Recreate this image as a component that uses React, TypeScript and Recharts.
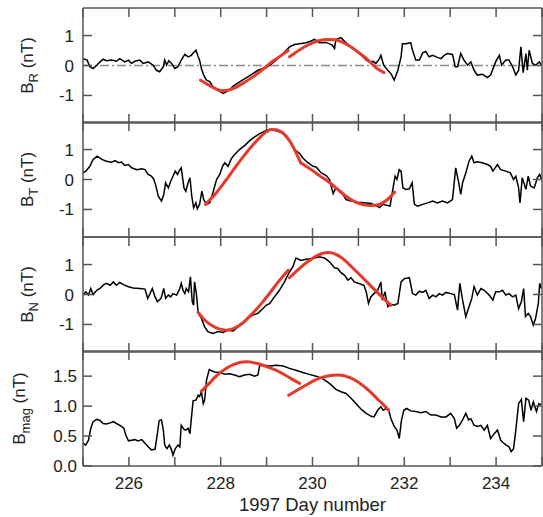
import { LineChart, Line, XAxis, YAxis, ReferenceLine } from "recharts";

const FRAME = "#555";
const RED = "#e5392b";
const FONT = "'Liberation Sans', Arial, sans-serif";

const xTicks = [225, 226, 227, 228, 229, 230, 231, 232, 233, 234, 235];
const fieldTicks = [-1, 0, 1];
const magTicks = [0, 0.5, 1, 1.5];

// B_R
const brDays = [225.0, 225.09, 225.15, 225.22, 225.3, 225.37, 225.44, 225.51, 225.62, 225.73, 225.8, 225.91, 225.99, 226.06, 226.13, 226.24, 226.31, 226.42, 226.53, 226.6, 226.67, 226.75, 226.78, 226.82, 226.87, 226.93, 227.0, 227.07, 227.14, 227.22, 227.29, 227.36, 227.4, 227.46, 227.51, 227.54, 227.58, 227.63, 227.69, 227.76, 227.83, 227.94, 228.05, 228.12, 228.2, 228.27, 228.38, 228.49, 228.59, 228.7, 228.81, 228.92, 229.03,
  229.21, 229.36, 229.5, 229.61, 229.72, 229.86, 229.97, 230.04, 230.15, 230.3, 230.43, 230.48, 230.51, 230.62, 230.73, 230.84, 230.95, 231.07, 231.17, 231.24, 231.32, 231.38, 231.46, 231.49, 231.55, 231.64, 231.71, 231.78, 231.86, 231.93, 231.96, 232.04, 232.14, 232.18, 232.25, 232.33, 232.4, 232.47, 232.54, 232.62, 232.72, 232.8, 232.87, 232.94, 233.05, 233.11, 233.16, 233.23, 233.3, 233.38, 233.45, 233.52, 233.59, 233.7, 233.81, 233.88, 233.99, 234.07, 234.12, 234.21, 234.28, 234.36, 234.43, 234.49, 234.54, 234.59, 234.65, 234.68, 234.72, 234.79, 234.86, 234.94, 234.99];
const brVals = [0.23, 0.18, -0.04, -0.1, 0.01, 0.12, 0.21, 0.16, 0.18, 0.14, 0.23, 0.12, 0.18, 0.07, 0.14, 0.18, 0.07, 0.12, 0.01, -0.16, -0.21, -0.04, 0.18, 0.01, 0.16, 0.07, -0.1, -0.04, 0.18, 0.37, 0.29, 0.34, 0.42, 0.51, 0.29, 0.18, -0.1, -0.32, -0.49, -0.54, -0.71, -0.82, -0.93, -0.88, -0.8, -0.69, -0.58, -0.47, -0.38, -0.27, -0.16, -0.1, -0.04,
  0.18, 0.4, 0.62, 0.7, 0.73, 0.76, 0.82, 0.87, 0.76, 0.77, 0.68, 0.57, 0.87, 0.93, 0.76, 0.62, 0.49, 0.34, 0.18, 0.12, 0.14, 0.07, 0.23, 0.34, 0.01, -0.16, -0.27, -0.49, -0.16, 0.29, 0.73, 0.73, 0.76, 0.51, 0.18, 0.18, 0.42, 0.47, 0.29, 0.34, 0.27, 0.23, 0.34, 0.4, 0.37, -0.04, -0.04, 0.4, 0.18, 0.01, 0.12, -0.16, -0.32, -0.29, -0.4, -0.32, 0.12, 0.34, 0.01, 0.18, 0.18, -0.04, -0.32, -0.16, 0.62, -0.24, 0.4, -0.16, 0.51, 0.07, 0.01, 0.12, 0.01];
const brFitADays = [227.56, 227.7, 227.85, 228.01, 228.15, 228.3, 228.5, 228.7, 228.9, 229.0, 229.07, 229.21, 229.36, 229.47];
const brFitAVals = [-0.49, -0.62, -0.75, -0.84, -0.83, -0.75, -0.58, -0.38, -0.15, -0.03, 0.07, 0.22, 0.38, 0.5];
const brFitBDays = [229.5, 229.65, 229.86, 230.04, 230.3, 230.48, 230.62, 230.84, 231.07, 231.24, 231.38, 231.56];
const brFitBVals = [0.29, 0.45, 0.65, 0.78, 0.87, 0.86, 0.8, 0.62, 0.36, 0.14, -0.07, -0.24];

// B_T
const btDays = [225.0, 225.06, 225.15, 225.22, 225.31, 225.41, 225.51, 225.62, 225.7, 225.77, 225.84, 225.91, 225.99, 226.06, 226.17, 226.28, 226.35, 226.42, 226.49, 226.54, 226.59, 226.64, 226.71, 226.76, 226.8, 226.86, 226.91, 226.96, 227.01, 227.06, 227.11, 227.14, 227.2, 227.24, 227.29, 227.33, 227.37, 227.41, 227.46, 227.49, 227.54, 227.59, 227.63, 227.69, 227.76, 227.83, 227.91, 227.98, 228.04, 228.09, 228.16, 228.23, 228.3, 228.41, 228.52, 228.62, 228.74, 228.85, 228.99,
  229.07, 229.21, 229.36, 229.5, 229.61, 229.72, 229.79, 229.9, 230.01, 230.08, 230.19, 230.3, 230.37, 230.45, 230.51, 230.62, 230.73, 230.84, 230.99, 231.13, 231.28, 231.38, 231.46, 231.53, 231.64, 231.69, 231.75, 231.8, 231.84, 231.89, 231.93, 231.97, 232.04, 232.11, 232.17, 232.22, 232.29, 232.4, 232.51, 232.62, 232.72, 232.83, 232.94, 233.05, 233.12, 233.18, 233.23, 233.27, 233.34, 233.41, 233.47, 233.52, 233.59, 233.7, 233.81, 233.88, 233.93, 234.03, 234.1, 234.21, 234.31, 234.38, 234.43, 234.49, 234.52, 234.57, 234.65, 234.7, 234.75, 234.83, 234.9, 234.95, 234.99];
const btVals = [0.22, 0.28, 0.44, 0.67, 0.78, 0.67, 0.61, 0.58, 0.63, 0.56, 0.58, 0.47, 0.5, 0.39, 0.33, 0.36, 0.33, 0.17, 0.11, 0.02, -0.22, -0.56, -0.72, -0.5, -0.11, -0.28, -0.06, 0.11, 0.28, 0.17, 0.33, 0.39, -0.28, -0.39, -0.11, 0.06, -0.56, -0.94, -0.78, -0.98, -0.83, -0.39, -0.67, -0.83, -0.78, -0.44, 0, 0.17, 0.44, 0.56, 0.44, 0.69, 0.83, 1.0, 1.13, 1.28, 1.42, 1.53, 1.64,
  1.67, 1.63, 1.53, 1.28, 1.0, 0.87, 0.72, 0.56, 0.44, 0.42, 0.22, 0.13, 0, -0.47, -0.28, -0.39, -0.67, -0.72, -0.76, -0.78, -0.8, -0.87, -0.94, -0.83, -0.87, -0.89, -0.33, 0.11, 0, 0.33, 0.28, -0.28, -0.33, -0.31, -0.11, -0.83, -0.89, -0.83, -0.78, -0.72, -0.78, -0.72, -0.78, -0.67, 0.39, -0.06, -0.5, -0.11, 0.22, 0.61, 0.78, 0.56, 0.59, 0.56, 0.5, 0.44, 0.28, 0.5, 0.33, 0.28, 0.22, 0, 0.11, -0.28, -0.78, 0.06, -0.33, 0.11, -0.22, -0.28, 0.06, 0.17, 0];
const btFitADays = [227.67, 227.9, 228.1, 228.3, 228.5, 228.7, 228.85, 229.0, 229.1, 229.21, 229.36, 229.5, 229.63, 229.74];
const btFitAVals = [-0.83, -0.45, -0.05, 0.37, 0.78, 1.15, 1.4, 1.6, 1.67, 1.66, 1.55, 1.3, 0.93, 0.56];
const btFitBDays = [229.74, 229.97, 230.15, 230.37, 230.55, 230.73, 230.92, 231.1, 231.28, 231.46, 231.64, 231.79];
const btFitBVals = [0.56, 0.33, 0.13, -0.1, -0.33, -0.56, -0.74, -0.84, -0.87, -0.83, -0.66, -0.42];

// B_N
const bnDays = [225.0, 225.06, 225.12, 225.17, 225.22, 225.3, 225.37, 225.44, 225.51, 225.59, 225.66, 225.73, 225.8, 225.88, 225.99, 226.09, 226.24, 226.35, 226.41, 226.46, 226.51, 226.57, 226.62, 226.7, 226.76, 226.8, 226.86, 226.91, 226.96, 227.04, 227.11, 227.14, 227.18, 227.22, 227.25, 227.3, 227.34, 227.38, 227.41, 227.43, 227.47, 227.51, 227.58, 227.65, 227.72, 227.83, 227.94, 228.05, 228.16, 228.27, 228.38, 228.49, 228.59, 228.7, 228.81, 228.92, 228.99,
  229.07, 229.17, 229.28, 229.39, 229.5, 229.57, 229.64, 229.75, 229.86, 230.01, 230.15, 230.26, 230.37, 230.48, 230.55, 230.62, 230.7, 230.77, 230.84, 230.91, 231.01, 231.12, 231.17, 231.22, 231.27, 231.34, 231.42, 231.49, 231.52, 231.58, 231.64, 231.71, 231.78, 231.86, 231.93, 232.0, 232.11, 232.18, 232.25, 232.33, 232.4, 232.47, 232.54, 232.62, 232.69, 232.76, 232.83, 232.91, 233.01, 233.09, 233.16, 233.21, 233.27, 233.34, 233.41, 233.47, 233.52, 233.59, 233.67, 233.74, 233.85, 233.93, 233.99, 234.07, 234.14, 234.21, 234.28, 234.36, 234.43, 234.49, 234.55, 234.6, 234.64, 234.7, 234.75, 234.81, 234.86, 234.92, 234.95, 234.99];
const bnVals = [-0.02, 0.09, -0.02, 0.2, 0, 0.14, 0.2, 0.31, 0.37, 0.31, 0.42, 0.31, 0.4, 0.33, 0.26, 0.22, 0.2, 0.18, -0.13, 0.03, 0.2, -0.08, -0.24, -0.13, 0.2, -0.13, -0.02, -0.08, 0.03, -0.02, 0.2, 0.37, 0.14, 0.03, 0.2, 0.09, 0.59, -0.24, -0.36, 0.42, 0.03, -0.63, -0.8, -1.08, -1.24, -1.3, -1.24, -1.27, -1.19, -1.22, -1.08, -0.97, -0.8, -0.69, -0.63, -0.47, -0.36,
  -0.3, -0.08, 0.14, 0.42, 0.76, 0.92, 1.22, 1.14, 1.18, 1.2, 1.26, 1.22, 1.09, 0.89, 0.87, 0.73, 0.64, 0.48, 0.56, 0.42, 0.37, 0.31, 0.09, -0.3, -0.08, 0.03, 0.14, 0.42, -0.19, 0.09, -0.41, -0.33, -0.36, -0.3, 0.42, 0.53, 0.56, 0.03, -0.02, 0.11, 0.07, 0.14, -0.13, -0.02, -0.08, 0.03, -0.02, 0.07, 0.03, 0, -0.52, 0.37, -0.19, -0.74, -0.41, -0.13, 0.26, -0.02, 0.2, 0.14, -0.02, -0.19, 0.09, 0.09, 0.14, -0.02, 0.03, -0.08, -0.02, -0.47, -0.24, 0.2, -0.74, -0.63, -0.74, -1.02, -0.8, -0.3, 0.37, 0.2];
const bnFitADays = [227.51, 227.65, 227.8, 227.95, 228.12, 228.3, 228.5, 228.7, 228.9, 229.07, 229.27, 229.47];
const bnFitAVals = [-0.6, -0.85, -1.03, -1.14, -1.19, -1.12, -0.92, -0.62, -0.28, 0.05, 0.45, 0.81];
const bnFitBDays = [229.5, 229.7, 229.9, 230.1, 230.34, 230.5, 230.7, 230.9, 231.1, 231.3, 231.5, 231.71];
const bnFitBVals = [0.56, 0.85, 1.1, 1.3, 1.4, 1.35, 1.15, 0.85, 0.55, 0.24, -0.06, -0.36];

// B_mag
const bmDays = [225.0, 225.06, 225.12, 225.17, 225.22, 225.3, 225.37, 225.44, 225.51, 225.59, 225.66, 225.73, 225.82, 225.89, 225.93, 225.99, 226.06, 226.13, 226.2, 226.28, 226.35, 226.42, 226.49, 226.57, 226.62, 226.66, 226.71, 226.75, 226.78, 226.83, 226.88, 226.93, 226.96, 227.01, 227.07, 227.11, 227.14, 227.2, 227.24, 227.29, 227.33, 227.36, 227.4, 227.46, 227.51, 227.54, 227.58, 227.62, 227.65, 227.69, 227.75, 227.8, 227.87, 227.98, 228.09, 228.2, 228.3, 228.41, 228.52, 228.63, 228.74, 228.81, 228.85, 228.92, 228.99,
  229.07, 229.21, 229.36, 229.5, 229.64, 229.79, 229.93, 230.08, 230.22, 230.37, 230.51, 230.62, 230.73, 230.84, 230.95, 231.07, 231.17, 231.28, 231.34, 231.42, 231.49, 231.54, 231.6, 231.66, 231.71, 231.78, 231.84, 231.89, 231.94, 231.99, 232.05, 232.14, 232.25, 232.36, 232.47, 232.58, 232.69, 232.8, 232.91, 233.01, 233.09, 233.14, 233.2, 233.27, 233.34, 233.4, 233.45, 233.52, 233.59, 233.67, 233.74, 233.81, 233.88, 233.96, 234.03, 234.1, 234.17, 234.22, 234.28, 234.33, 234.38, 234.43, 234.49, 234.55, 234.6, 234.65, 234.71, 234.76, 234.81, 234.88, 234.93, 234.99];
const bmVals = [0.38, 0.35, 0.43, 0.63, 0.74, 0.78, 0.76, 0.71, 0.7, 0.72, 0.74, 0.71, 0.67, 0.63, 0.52, 0.42, 0.43, 0.44, 0.42, 0.44, 0.38, 0.32, 0.27, 0.28, 0.54, 0.76, 0.77, 0.6, 0.35, 0.29, 0.35, 0.27, 0.18, 0.29, 0.35, 0.32, 0.68, 0.61, 0.6, 0.63, 0.54, 0.79, 1.09, 1.1, 1.18, 1.16, 1.24, 1.04, 1.1, 1.43, 1.61, 1.59, 1.57, 1.56, 1.53, 1.54, 1.52, 1.49, 1.52, 1.53, 1.5, 1.52, 1.68, 1.68, 1.68,
  1.67, 1.68, 1.67, 1.63, 1.6, 1.56, 1.53, 1.5, 1.46, 1.38, 1.28, 1.24, 1.21, 1.13, 1.04, 0.94, 0.88, 0.83, 0.82, 0.93, 0.99, 0.93, 0.96, 0.93, 0.79, 0.66, 0.6, 0.46, 0.77, 0.93, 0.96, 0.92, 0.91, 0.89, 0.91, 0.85, 0.85, 0.82, 0.82, 0.88, 0.79, 0.63, 0.68, 0.77, 0.88, 0.77, 0.79, 0.68, 0.66, 0.68, 0.6, 0.68, 0.46, 0.54, 0.6, 0.43, 0.38, 0.35, 0.32, 0.24, 0.29, 0.6, 1.04, 1.11, 0.74, 1.13, 1.1, 0.93, 1.07, 0.91, 1.04, 1.02];
const bmFitADays = [227.58, 227.75, 227.9, 228.1, 228.3, 228.56, 228.8, 229.0, 229.2, 229.4, 229.55, 229.72];
const bmFitAVals = [1.25, 1.38, 1.5, 1.62, 1.7, 1.74, 1.71, 1.66, 1.6, 1.52, 1.45, 1.38];
const bmFitBDays = [229.48, 229.7, 229.9, 230.1, 230.3, 230.57, 230.8, 231.0, 231.2, 231.4, 231.55, 231.66];
const bmFitBVals = [1.18, 1.28, 1.37, 1.45, 1.5, 1.52, 1.48, 1.4, 1.28, 1.13, 1.02, 0.93];

const zip = (days: number[], vals: number[]) =>
  days.slice(0, Math.min(days.length, vals.length)).map((d, i) => ({ d, v: vals[i] }));

const tickStyle = { fill: "#222", fontSize: 17, fontFamily: FONT };

function YTitle({ x, y, sub }: { x: number; y: number; sub: string }) {
  return (
    <text x={x} y={y} transform={`rotate(-90 ${x} ${y})`} textAnchor="middle" fontSize={17} fontFamily={FONT} fill="#222">
      B<tspan dy={5} fontSize={13}>{sub}</tspan>
      <tspan dy={-5}> (nT)</tspan>
    </text>
  );
}

type PanelProps = {
  top: number;
  black: { d: number; v: number }[];
  fits: { d: number; v: number }[][];
  domain: [number, number];
  yTicks: number[];
  yFmt: (v: number) => string;
  sub: string;
  titleX: number;
  yMargin: number;
  showX?: boolean;
  zeroLine?: boolean;
};

function Panel({ top, black, fits, domain, yTicks, yFmt, sub, titleX, yMargin, showX, zeroLine }: PanelProps) {
  const plotH = 115;
  const axisH = showX ? 50 : 2;
  return (
    <div style={{ position: "absolute", left: 0, top: top - 2 }}>
      <LineChart width={545} height={plotH + axisH + 2} margin={{ top: 0, right: 0, bottom: 0, left: 0 }}>
        <XAxis
          xAxisId="b"
          type="number"
          dataKey="d"
          domain={[225, 235]}
          ticks={xTicks}
          interval={0}
          allowDataOverflow
          height={axisH}
          tickSize={-9}
          tickMargin={20}
          stroke={FRAME}
          strokeWidth={1.5}
          tick={tickStyle}
          tickFormatter={(v: number) => (showX && v % 2 === 0 ? String(v) : "")}
          label={
            showX
              ? (p: any) => {
                  const vb = p.viewBox || { x: 83, y: 117, width: 459 };
                  return (
                    <text x={vb.x + vb.width / 2} y={vb.y + 45} textAnchor="middle" fontSize={18.5} fontFamily={FONT} fill="#222">
                      1997 Day number
                    </text>
                  );
                }
              : undefined
          }
        />
        <XAxis
          xAxisId="t"
          orientation="top"
          type="number"
          dataKey="d"
          domain={[225, 235]}
          ticks={xTicks}
          interval={0}
          allowDataOverflow
          height={2}
          tickSize={-9}
          stroke={FRAME}
          strokeWidth={1.5}
          tickFormatter={() => ""}
        />
        <YAxis
          yAxisId="l"
          type="number"
          domain={domain}
          ticks={yTicks}
          interval={0}
          allowDataOverflow
          width={83}
          tickSize={-9}
          tickMargin={yMargin}
          stroke={FRAME}
          strokeWidth={1.5}
          tick={tickStyle}
          tickFormatter={yFmt}
          label={(p: any) => {
            const vb = p.viewBox || { y: 2, height: plotH };
            return <YTitle x={titleX} y={vb.y + vb.height / 2} sub={sub} />;
          }}
        />
        <YAxis
          yAxisId="r"
          orientation="right"
          type="number"
          domain={domain}
          ticks={yTicks}
          interval={0}
          allowDataOverflow
          width={3}
          tickSize={-9}
          stroke={FRAME}
          strokeWidth={1.5}
          tickFormatter={() => ""}
        />
        {zeroLine && (
          <ReferenceLine xAxisId="b" yAxisId="l" y={0} stroke="#8a8a8a" strokeWidth={1.5} strokeDasharray="9 3 2 3" />
        )}
        {/* invisible series so the top and right frame axes get drawn */}
        <Line
          xAxisId="t"
          yAxisId="r"
          data={black}
          dataKey="v"
          stroke="none"
          dot={false}
          activeDot={false}
          isAnimationActive={false}
        />
        <Line
          xAxisId="b"
          yAxisId="l"
          data={black}
          dataKey="v"
          type="linear"
          stroke="#000"
          strokeWidth={1.5}
          dot={false}
          isAnimationActive={false}
        />
        {fits.map((f, i) => (
          <Line
            key={i}
            xAxisId="b"
            yAxisId="l"
            data={f}
            dataKey="v"
            type="monotone"
            stroke={RED}
            strokeWidth={3}
            strokeLinecap="round"
            dot={false}
            isAnimationActive={false}
          />
        ))}
      </LineChart>
    </div>
  );
}

export default function App() {
  const field: [number, number] = [-1.92, 1.92];
  const intFmt = (v: number) => String(v);
  return (
    <div style={{ position: "absolute", left: 0, top: 0, width: 543, height: 517, background: "#fff", overflow: "hidden" }}>
      <Panel top={8} black={zip(brDays, brVals)} fits={[zip(brFitADays, brFitAVals), zip(brFitBDays, brFitBVals)]} domain={field} yTicks={fieldTicks} yFmt={intFmt} sub="R" titleX={33} yMargin={18} zeroLine />
      <Panel top={122} black={zip(btDays, btVals)} fits={[zip(btFitADays, btFitAVals), zip(btFitBDays, btFitBVals)]} domain={field} yTicks={fieldTicks} yFmt={intFmt} sub="T" titleX={33} yMargin={18} />
      <Panel top={237} black={zip(bnDays, bnVals)} fits={[zip(bnFitADays, bnFitAVals), zip(bnFitBDays, bnFitBVals)]} domain={field} yTicks={fieldTicks} yFmt={intFmt} sub="N" titleX={33} yMargin={18} />
      <Panel top={351} black={zip(bmDays, bmVals)} fits={[zip(bmFitADays, bmFitAVals), zip(bmFitBDays, bmFitBVals)]} domain={[0, 1.92]} yTicks={magTicks} yFmt={(v: number) => v.toFixed(1)} sub="mag" titleX={25} yMargin={15} showX />
    </div>
  );
}
